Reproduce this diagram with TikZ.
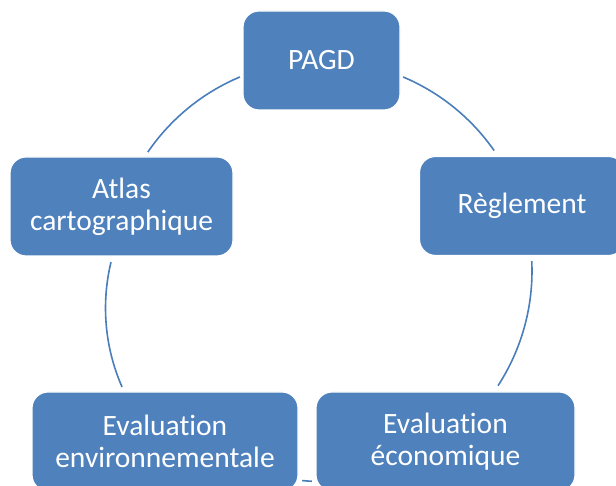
\documentclass[tikz,border=0pt]{standalone}
\usepackage{fontspec}
\setmainfont{Carlito}[Ligatures=NoCommon]
\definecolor{accent}{RGB}{79,129,189}
\definecolor{arcblue}{RGB}{74,126,187}

\begin{document}
\begin{tikzpicture}[x=1pt,y=1pt,
    box/.style={fill=accent,draw=white,line width=1.2pt,rounded corners=16pt,
      text=white,align=center,inner sep=0pt,minimum height=99pt,
      font=\fontsize{29.5}{32}\selectfont},
    link/.style={arcblue,line width=1.6pt}]
  \clip (0,0) rectangle (616,486);
  \coordinate (hub) at (321.5,215);
  \coordinate (bulge) at (301.4,177.8);
  % arcs of the cycle
  \foreach \s/\e in {67.2/34.9,112.8/145.6,2.7/-33,-95.3/-92.6}
    \draw[link] ([shift={(\s:210.5pt)}]hub) arc[start angle=\s,end angle=\e,radius=210.5pt];
  \draw[link] ([shift={(166.4:195.9pt)}]bulge) arc[start angle=166.4,end angle=203.7,radius=195.9pt];
  % steps
  \node[box,minimum width=157pt] (pagd) at (321.5,425.5) {PAGD};
  \node[box,minimum width=205pt] (regl) at (522,280) {Règlement};
  \node[box,minimum width=223pt] (atlas) at (121.5,279.5) {Atlas\\cartographique};
  \node[box,minimum width=266pt] (evenv) at (165,44.5) {Evaluation\\environnementale};
  \node[box,minimum width=259pt] (eveco) at (445.5,44.5) {Evaluation\\économique};
\end{tikzpicture}
\end{document}
